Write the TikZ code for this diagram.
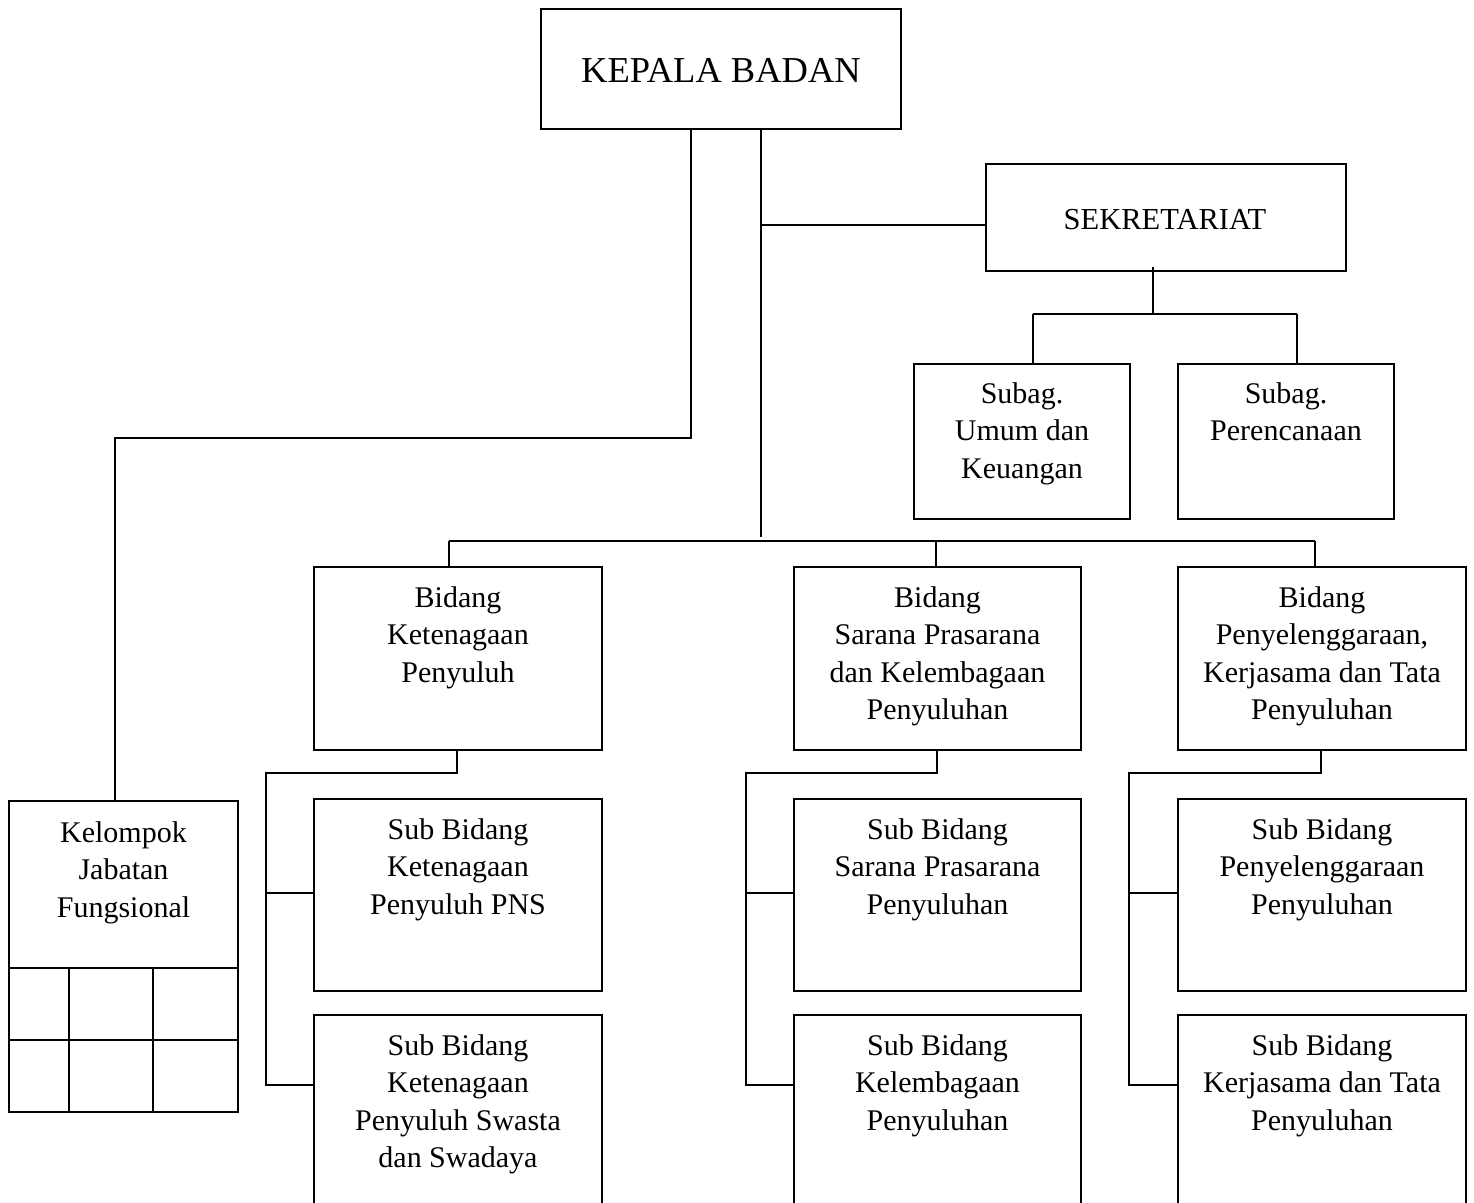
\documentclass[tikz,border=0pt]{standalone}
\usepackage{fontspec}
\setmainfont{Liberation Serif}
\newcommand{\fl}{\rule{0pt}{25pt}}
\begin{document}
\begin{tikzpicture}[x=1pt,y=-1pt,
  box/.style={draw, line width=2pt, anchor=north west, inner sep=0pt},
  txt/.style={anchor=north, align=center, inner sep=0pt, font={\fontsize{30}{37.5}\selectfont}},
  conn/.style={line width=2pt}]
\clip (0,0) rectangle (1474,1202);
\fill[white] (0,0) rectangle (1474,1202);
% boxes
\node[box, minimum width=360pt, minimum height=120pt] (kb) at (540,8) {};
\node[box, minimum width=360pt, minimum height=107pt] (sek) at (985,163) {};
\node[box, minimum width=216pt, minimum height=155pt] (su) at (913,363) {};
\node[box, minimum width=216pt, minimum height=155pt] (sp) at (1177,363) {};
\node[box, minimum width=288pt, minimum height=183pt] (b1) at (313,566) {};
\node[box, minimum width=287pt, minimum height=183pt] (b2) at (793,566) {};
\node[box, minimum width=288pt, minimum height=183pt] (b3) at (1177,566) {};
\node[box, minimum width=288pt, minimum height=192pt] (s11) at (313,798) {};
\node[box, minimum width=288pt, minimum height=240pt] (s12) at (313,1014) {};
\node[box, minimum width=287pt, minimum height=192pt] (s21) at (793,798) {};
\node[box, minimum width=287pt, minimum height=240pt] (s22) at (793,1014) {};
\node[box, minimum width=288pt, minimum height=192pt] (s31) at (1177,798) {};
\node[box, minimum width=288pt, minimum height=240pt] (s32) at (1177,1014) {};
\node[box, minimum width=229pt, minimum height=311pt] (kel) at (8,800) {};
% kelompok grid
\draw[conn] (kel.west |- 0,968) -- (kel.east |- 0,968);
\draw[conn] (kel.west |- 0,1040) -- (kel.east |- 0,1040);
\draw[conn] (69,968) -- (kel.south -| 69,0);
\draw[conn] (153,968) -- (kel.south -| 153,0);
% texts
\node[anchor=base, inner sep=0pt, font={\fontsize{36.5}{44}\selectfont}] (tkb) at (721,82) {KEPALA BADAN};
\node[anchor=base, inner sep=0pt, font={\fontsize{30.5}{37.5}\selectfont}] (tsek) at (1165,229) {SEKRETARIAT};
\node[txt] (tsu) at ([yshift=-15pt]su.north) {\fl Subag.\\Umum dan\\Keuangan};
\node[txt] (tsp) at ([yshift=-15pt]sp.north) {\fl Subag.\\Perencanaan};
\node[txt] (tb1) at ([yshift=-16pt]b1.north) {\fl Bidang\\Ketenagaan\\Penyuluh};
\node[txt] (tb2) at ([yshift=-16pt]b2.north) {\fl Bidang\\Sarana Prasarana\\dan Kelembagaan\\Penyuluhan};
\node[txt] (tb3) at ([yshift=-16pt]b3.north) {\fl Bidang\\Penyelenggaraan,\\Kerjasama dan Tata\\Penyuluhan};
\node[txt] (ts11) at ([yshift=-16pt]s11.north) {\fl Sub Bidang\\Ketenagaan\\Penyuluh PNS};
\node[txt] (ts12) at ([yshift=-16pt]s12.north) {\fl Sub Bidang\\Ketenagaan\\Penyuluh Swasta\\dan Swadaya};
\node[txt] (ts21) at ([yshift=-16pt]s21.north) {\fl Sub Bidang\\Sarana Prasarana\\Penyuluhan};
\node[txt] (ts22) at ([yshift=-16pt]s22.north) {\fl Sub Bidang\\Kelembagaan\\Penyuluhan};
\node[txt] (ts31) at ([yshift=-16pt]s31.north) {\fl Sub Bidang\\Penyelenggaraan\\Penyuluhan};
\node[txt] (ts32) at ([yshift=-16pt]s32.north) {\fl Sub Bidang\\Kerjasama dan Tata\\Penyuluhan};
\node[txt] (tkel) at ([yshift=-17pt]kel.north) {\fl Kelompok\\Jabatan\\Fungsional};
% connectors from kepala
\draw[conn] (kb.south -| 691,0) -- (691,438) -- (115,438) -- (kel.north -| 115,0);
\draw[conn] (kb.south -| 761,0) -- (761,537);
\draw[conn] (761,225) -- (sek.west |- 0,225);
% sekretariat
\draw[conn] (1153,267) -- (1153,314);
\draw[conn] (1033,314) -- (1297,314);
\draw[conn] (1033,314) -- (su.north -| 1033,0);
\draw[conn] (1297,314) -- (sp.north -| 1297,0);
% bidang bus
\draw[conn] (449,541) -- (1315,541);
\draw[conn] (449,541) -- (b1.north -| 449,0);
\draw[conn] (936,541) -- (b2.north -| 936,0);
\draw[conn] (1315,541) -- (b3.north -| 1315,0);
% column 1
\draw[conn] (b1.south -| 457,0) -- (457,773) -- (266,773) -- (266,1085) -- (s12.west |- 0,1085);
\draw[conn] (266,893) -- (s11.west |- 0,893);
% column 2
\draw[conn] (b2.south -| 937,0) -- (937,773) -- (746,773) -- (746,1085) -- (s22.west |- 0,1085);
\draw[conn] (746,893) -- (s21.west |- 0,893);
% column 3
\draw[conn] (b3.south -| 1321,0) -- (1321,773) -- (1129,773) -- (1129,1085) -- (s32.west |- 0,1085);
\draw[conn] (1129,893) -- (s31.west |- 0,893);
\end{tikzpicture}
\end{document}
